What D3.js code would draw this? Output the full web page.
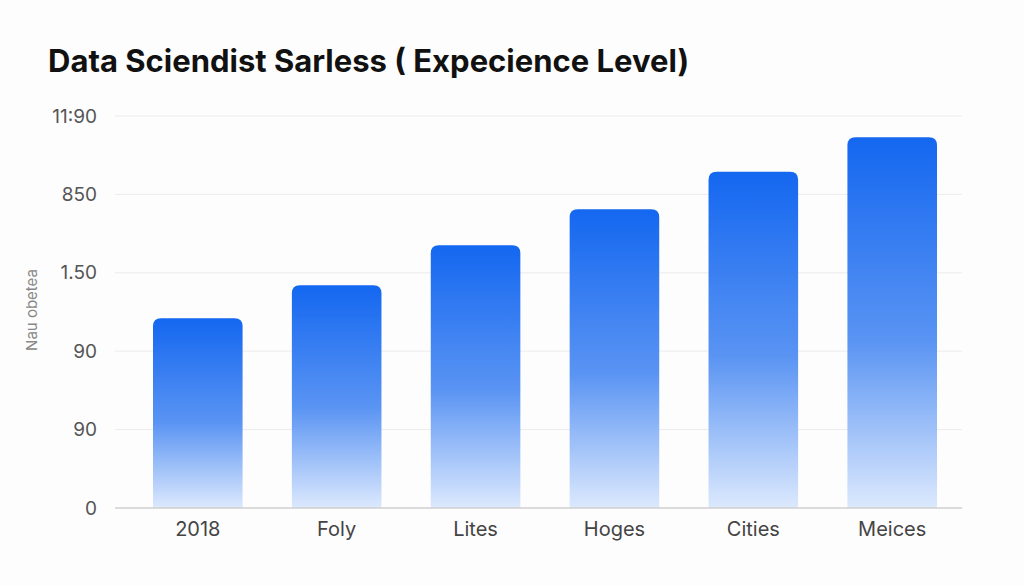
<!DOCTYPE html>
<html><head><meta charset="utf-8">
<script src="https://cdn.jsdelivr.net/npm/d3@7"></script>
<style>body{margin:0;background:#fdfdfd;font-family:Inter,"Open Sans",sans-serif}</style>
</head><body><div id="chart"></div>
<script>
var categories = ["2018", "Foly", "Lites", "Hoges", "Cities", "Meices"];
var values = [2.42, 2.84, 3.35, 3.81, 4.29, 4.73];
var tickLabels = ["0", "90", "90", "1.50", "850", "11:90"];

var width = 1024, height = 585;
var margin = {top: 116, right: 62, bottom: 77, left: 115};

var svg = d3.select("#chart").append("svg").attr("width", width).attr("height", height);
svg.append("rect").attr("width", width).attr("height", height).attr("fill", "#fdfdfd");

var defs = svg.append("defs");
var grad = defs.append("linearGradient").attr("id", "barGrad")
  .attr("x1", 0).attr("y1", 0).attr("x2", 0).attr("y2", 1);
grad.append("stop").attr("offset", "0%").attr("stop-color", "#1467f0");
grad.append("stop").attr("offset", "55%").attr("stop-color", "#5a94f3");
grad.append("stop").attr("offset", "100%").attr("stop-color", "#dce9fd");

var xScale = d3.scaleBand().domain(categories).range([128, 962]).paddingInner(0.355).paddingOuter(0.18);
var yScale = d3.scaleLinear().domain([0, 5]).range([height - margin.bottom, margin.top]);

// gridlines
svg.append("g").selectAll("line").data(d3.range(1, 6)).enter().append("line")
  .attr("x1", margin.left).attr("x2", 962)
  .attr("y1", function(d) { return yScale(d); }).attr("y2", function(d) { return yScale(d); })
  .attr("stroke", "#ececec").attr("stroke-width", 1);

// bars
svg.append("g").selectAll("path").data(values).enter().append("path")
  .attr("fill", "url(#barGrad)")
  .attr("d", function(d, i) {
    var x = xScale(categories[i]), w = xScale.bandwidth(), y = yScale(d), b = yScale(0), r = 8;
    return "M" + x + "," + b + "V" + (y + r) + "Q" + x + "," + y + " " + (x + r) + "," + y +
      "H" + (x + w - r) + "Q" + (x + w) + "," + y + " " + (x + w) + "," + (y + r) + "V" + b + "Z";
  });

// baseline
svg.append("line").attr("x1", margin.left).attr("x2", 962)
  .attr("y1", yScale(0)).attr("y2", yScale(0)).attr("stroke", "#cfcfcf").attr("stroke-width", 1.5);

// y axis labels
var yAxisCall = d3.axisLeft(yScale).tickValues(d3.range(0, 6)).tickSize(0).tickPadding(16)
  .tickFormat(function(d) { return tickLabels[d]; });
var yg = svg.append("g").attr("transform", "translate(" + (margin.left - 2) + ",0)").call(yAxisCall);
yg.select(".domain").remove();
yg.selectAll("text").attr("font-size", 19).attr("fill", "#555").attr("font-family", "Inter, sans-serif");

// x axis labels
var xAxisCall = d3.axisBottom(xScale).tickSize(0).tickPadding(14);
var xg = svg.append("g").attr("transform", "translate(0," + yScale(0) + ")").call(xAxisCall);
xg.select(".domain").remove();
xg.selectAll("text").attr("font-size", 20).attr("fill", "#444").attr("font-family", "Inter, sans-serif");

// y title
svg.append("text").attr("transform", "translate(37,310) rotate(-90)")
  .attr("text-anchor", "middle").attr("font-size", 15).attr("fill", "#888").text("Nau obetea");

// title
svg.append("text").attr("x", 48).attr("y", 72).attr("font-size", 31).attr("font-weight", 700)
  .attr("fill", "#111").text("Data Sciendist Sarless ( Expecience Level)");
</script></body></html>
